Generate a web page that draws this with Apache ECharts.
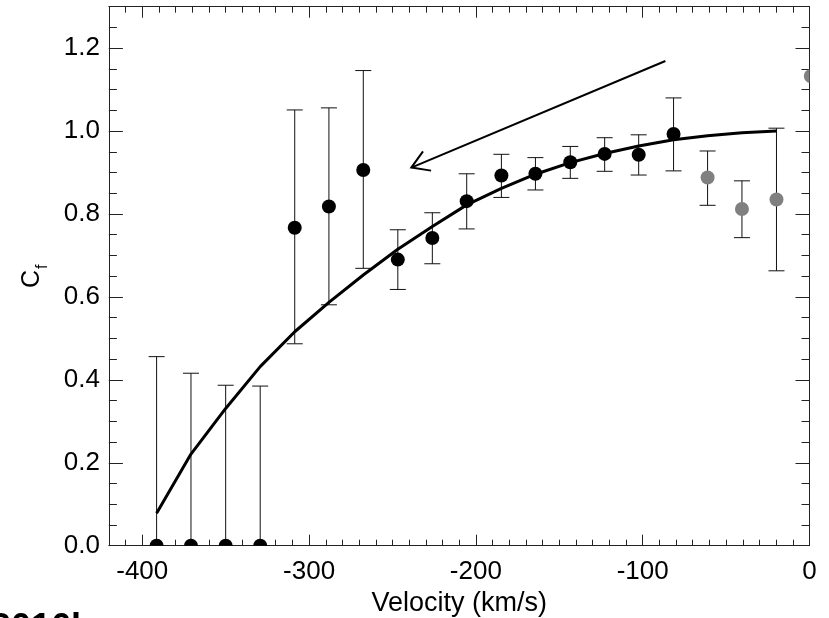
<!DOCTYPE html>
<html><head><meta charset="utf-8">
<script src="https://cdn.jsdelivr.net/npm/echarts@6/dist/echarts.min.js"></script>
<style>html,body{margin:0;padding:0;background:#fff}#c{width:829px;height:618px}</style>
</head><body><div id="c"></div>
<script>
// ---- data ----
const velocity  = [-391.4,-370.8,-350.0,-329.3,-308.6,-288.1,-267.5,-246.8,-226.1,-205.5,-184.7,-164.3,-143.4,-122.8,-102.4,-81.5,-61.1,-40.5,-19.8,0.8];
const coverFrac = [0,0,0,0,0.767,0.818,0.906,0.690,0.742,0.831,0.893,0.897,0.925,0.945,0.943,0.993,0.888,0.812,0.835,1.133];
const errUpper  = [0.456,0.416,0.387,0.385,1.051,1.056,1.146,0.762,0.803,0.897,0.944,0.936,0.963,0.984,0.991,1.080,0.952,0.880,1.007,null];
const errLower  = [0,0,0,0,0.487,0.581,0.669,0.618,0.680,0.764,0.840,0.858,0.886,0.903,0.894,0.904,0.821,0.743,0.663,null];
const pointGroup = ['fit','fit','fit','fit','fit','fit','fit','fit','fit','fit','fit','fit','fit','fit','fit','fit','excluded','excluded','excluded','excluded'];
const fitVelocity = [-391.4,-370.8,-350.0,-329.3,-308.6,-288.1,-267.5,-246.8,-226.1,-205.5,-184.7,-164.3,-143.4,-122.8,-102.4,-81.5,-61.1,-40.5,-19.8];
const fitCf       = [0.078,0.221,0.331,0.432,0.516,0.587,0.653,0.715,0.770,0.822,0.862,0.896,0.924,0.946,0.964,0.979,0.989,0.996,1.000];
const arrowStart = [-86.4, 1.169];
const arrowEnd   = [-238.7, 0.912];
const xTicks = [-400,-300,-200,-100,0];
const yTicks = [0.0,0.2,0.4,0.6,0.8,1.0,1.2];
const xLabel = 'Velocity (km/s)';
const cornerText = '2016b';

const FONT = '"Liberation Sans", Helvetica, Arial, sans-serif';
const AX = '#222';
const chart = echarts.init(document.getElementById('c'));

function xAxisDef(pos, major) {
  const ax = {
    type: 'value', position: pos, min: -420, max: 0, interval: 10,
    axisLine: { show: major, onZero: false, lineStyle: { color: AX, width: 1 } },
    axisTick: { show: true, inside: true, length: major ? 11 : 6, lineStyle: { color: AX, width: 1 } },
    axisLabel: { show: false },
    splitLine: { show: false }
  };
  if (major) {
    ax.axisTick.customValues = xTicks;
    if (pos === 'bottom') {
      ax.axisLabel = { show: true, customValues: xTicks, margin: 13, fontSize: 26, fontFamily: FONT, color: '#000',
                       formatter: v => String(v) };
      ax.name = xLabel;
      ax.nameLocation = 'middle';
      ax.nameGap = 42;
      ax.nameTextStyle = { fontSize: 27, fontFamily: FONT, color: '#000' };
    }
  }
  return ax;
}
function yAxisDef(pos, major) {
  const ax = {
    type: 'value', position: pos, min: 0, max: 1.3, interval: major ? 0.2 : 0.05,
    axisLine: { show: major, onZero: false, lineStyle: { color: AX, width: 1 } },
    axisTick: { show: true, inside: true, length: major ? 14 : 8, lineStyle: { color: AX, width: 1 } },
    axisLabel: { show: false },
    splitLine: { show: false }
  };
  if (major) {
    ax.axisTick.customValues = yTicks;
    if (pos === 'left') {
      ax.axisLabel = { show: true, customValues: yTicks, margin: 9, fontSize: 26, fontFamily: FONT, color: '#000',
                       formatter: v => v.toFixed(1) };
      ax.name = '{c|C}{f|f}';
      ax.nameLocation = 'middle';
      ax.nameGap = 58;
      ax.nameRotate = 90;
      ax.nameTextStyle = { fontSize: 26, fontFamily: FONT, color: '#000',
        rich: { c: { fontSize: 25, fontFamily: FONT, color: '#000', verticalAlign: 'top' },
                f: { fontSize: 16, fontFamily: FONT, color: '#000', verticalAlign: 'top', padding: [15, 0, 0, 1] } } };
    }
  }
  return ax;
}

const pts = velocity.map((v, i) => [v, coverFrac[i], i]);

function clipOf(params) {
  const cs = params.coordSys;
  return { type: 'rect', shape: { x: cs.x, y: cs.y, width: cs.width, height: cs.height } };
}

chart.setOption({
  animation: false,
  backgroundColor: '#fff',
  grid: { left: 108.9, right: 19.5, top: 6.7, bottom: 72.3, containLabel: false, outerBoundsMode: 'none' },
  xAxis: [xAxisDef('bottom', true), xAxisDef('bottom', false), xAxisDef('top', true), xAxisDef('top', false)],
  yAxis: [yAxisDef('left', true), yAxisDef('left', false), yAxisDef('right', true), yAxisDef('right', false)],
  graphic: [{
    type: 'text', left: -9, top: 611, silent: true,
    style: { text: cornerText, font: 'bold 36px ' + FONT, fill: '#000' }
  }],
  series: [
    {
      type: 'custom', name: 'errors', xAxisIndex: 0, yAxisIndex: 0, clip: true, z: 2,
      encode: { x: 0, y: 1 },
      data: pts,
      renderItem: function (params, api) {
        const i = api.value(2);
        const x = api.value(0);
        const children = [];
        if (errUpper[i] != null) {
          const pt = api.coord([x, errUpper[i]]);
          const pb = api.coord([x, errLower[i]]);
          const c = 8;
          const ls = { stroke: '#111', lineWidth: 1, fill: null };
          children.push({ type: 'line', shape: { x1: pt[0], y1: pt[1], x2: pb[0], y2: pb[1] }, style: ls });
          children.push({ type: 'line', shape: { x1: pt[0] - c, y1: pt[1], x2: pt[0] + c, y2: pt[1] }, style: ls });
          children.push({ type: 'line', shape: { x1: pb[0] - c, y1: pb[1], x2: pb[0] + c, y2: pb[1] }, style: ls });
        }
        return { type: 'group', clipPath: clipOf(params), children: children };
      }
    },
    {
      type: 'line', name: 'fit', xAxisIndex: 0, yAxisIndex: 0, clip: true, z: 3,
      data: fitVelocity.map((v, i) => [v, fitCf[i]]),
      showSymbol: false, symbol: 'none',
      lineStyle: { color: '#000', width: 3 }
    },
    {
      type: 'custom', name: 'points', xAxisIndex: 0, yAxisIndex: 0, clip: true, z: 4,
      encode: { x: 0, y: 1 },
      data: pts,
      renderItem: function (params, api) {
        const i = api.value(2);
        const p = api.coord([api.value(0), api.value(1)]);
        return { type: 'group', clipPath: clipOf(params), children: [
          { type: 'circle', shape: { cx: p[0], cy: p[1], r: 7 },
            style: { fill: pointGroup[i] === 'fit' ? '#000' : '#808080' } } ] };
      }
    },
    {
      type: 'custom', name: 'arrow', xAxisIndex: 0, yAxisIndex: 0, clip: false, z: 5,
      data: [[arrowStart[0], arrowStart[1], arrowEnd[0], arrowEnd[1]]],
      renderItem: function (params, api) {
        const p0 = api.coord([api.value(0), api.value(1)]);
        const p1 = api.coord([api.value(2), api.value(3)]);
        const ang = Math.atan2(p0[1] - p1[1], p0[0] - p1[0]);
        const L = 20, a = 0.55;
        const h1 = [p1[0] + L * Math.cos(ang + a), p1[1] + L * Math.sin(ang + a)];
        const h2 = [p1[0] + L * Math.cos(ang - a), p1[1] + L * Math.sin(ang - a)];
        const st = { stroke: '#000', lineWidth: 2, fill: null };
        return { type: 'group', children: [
          { type: 'line', shape: { x1: p0[0], y1: p0[1], x2: p1[0], y2: p1[1] }, style: st },
          { type: 'polyline', shape: { points: [h1, p1, h2] }, style: st }
        ] };
      }
    }
  ]
});
</script>
</body></html>
